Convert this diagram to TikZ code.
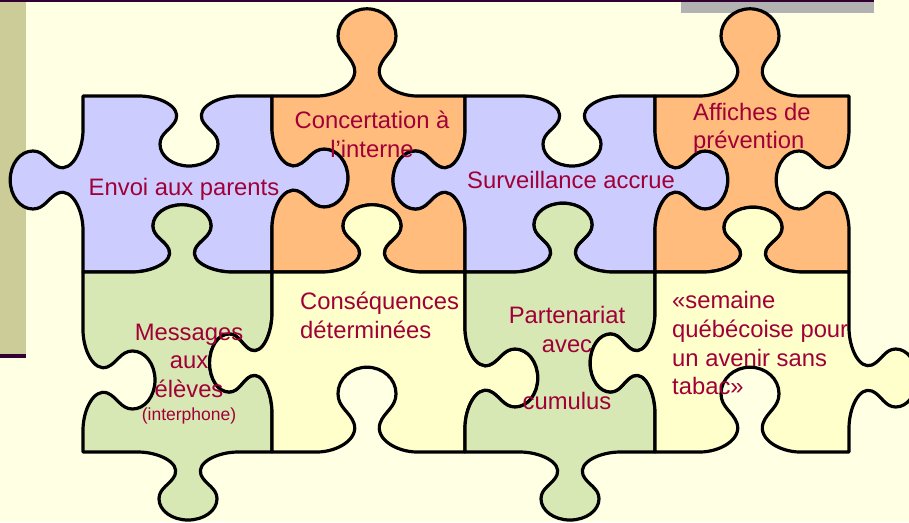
\documentclass[tikz,border=0pt]{standalone}
\usepackage{fontspec}
\setmainfont{Liberation Sans}
\definecolor{bgc}{RGB}{255,255,228}
\definecolor{stripc}{RGB}{204,204,153}
\definecolor{linec}{RGB}{51,0,51}
\definecolor{grayc}{RGB}{178,178,178}
\definecolor{bluec}{RGB}{204,204,255}
\definecolor{orangec}{RGB}{255,188,125}
\definecolor{greenc}{RGB}{216,232,180}
\definecolor{yellowc}{RGB}{255,255,204}
\definecolor{txtc}{RGB}{160,0,55}
% horizontal edge: #1 x end, #2 y, #3 tab centre x, #4 direction (+1/-1), #5 signed depth factor (+ = towards smaller y)
\newcommand\hE[5]{%
 -- ({#3+(#4)*(-50)},#2)
 .. controls ({#3+(#4)*(-30)},#2) and ({#3+(#4)*(-8)},{#2-(#5)*12}) .. ({#3+(#4)*(-13)},{#2-(#5)*27})
 .. controls ({#3+(#4)*(-17)},{#2-(#5)*38}) and ({#3+(#4)*(-29)},{#2-(#5)*42}) .. ({#3+(#4)*(-29)},{#2-(#5)*55})
 .. controls ({#3+(#4)*(-29)},{#2-(#5)*69}) and ({#3+(#4)*(-16)},{#2-(#5)*80}) .. ({#3},{#2-(#5)*80})
 .. controls ({#3+(#4)*16},{#2-(#5)*80}) and ({#3+(#4)*29},{#2-(#5)*69}) .. ({#3+(#4)*29},{#2-(#5)*55})
 .. controls ({#3+(#4)*29},{#2-(#5)*42}) and ({#3+(#4)*17},{#2-(#5)*38}) .. ({#3+(#4)*13},{#2-(#5)*27})
 .. controls ({#3+(#4)*8},{#2-(#5)*12}) and ({#3+(#4)*30},#2) .. ({#3+(#4)*50},#2)
 -- (#1,#2)}
% vertical edge: #1 y end, #2 x, #3 tab centre y, #4 direction, #5 signed depth factor (+ = towards smaller x)
\newcommand\vE[5]{%
 -- (#2,{#3+(#4)*(-50)})
 .. controls (#2,{#3+(#4)*(-30)}) and ({#2-(#5)*12},{#3+(#4)*(-8)}) .. ({#2-(#5)*27},{#3+(#4)*(-13)})
 .. controls ({#2-(#5)*38},{#3+(#4)*(-17)}) and ({#2-(#5)*42},{#3+(#4)*(-29)}) .. ({#2-(#5)*55},{#3+(#4)*(-29)})
 .. controls ({#2-(#5)*69},{#3+(#4)*(-29)}) and ({#2-(#5)*80},{#3+(#4)*(-16)}) .. ({#2-(#5)*80},{#3})
 .. controls ({#2-(#5)*80},{#3+(#4)*16}) and ({#2-(#5)*69},{#3+(#4)*29}) .. ({#2-(#5)*55},{#3+(#4)*29})
 .. controls ({#2-(#5)*42},{#3+(#4)*29}) and ({#2-(#5)*38},{#3+(#4)*17}) .. ({#2-(#5)*27},{#3+(#4)*13})
 .. controls ({#2-(#5)*12},{#3+(#4)*8}) and (#2,{#3+(#4)*30}) .. (#2,{#3+(#4)*50})
 -- (#2,#1)}
\begin{document}
\begin{tikzpicture}[x=1pt,y=-1pt,
  piece/.style={draw=black,line width=3.2pt,line join=round},
  lbl/.style={text=txtc,font=\fontsize{23.8}{29}\selectfont,inner sep=0pt},
  small/.style={text=txtc,font=\fontsize{17.5}{21}\selectfont,inner sep=0pt}]
\useasboundingbox (0,0) rectangle (909,522);
\fill[bgc] (0,0) rectangle (909,522);
\fill[stripc] (0,0) rectangle (26,356);
\fill[linec] (0,354) rectangle (26,358);
\fill[grayc] (681,0) rectangle (874,13);
\fill[linec] (0,0) rectangle (874,2);
% top row
\path[piece,fill=bluec] (83,96) \hE{272}{96}{189}{1}{-0.875} \vE{272}{272}{178}{1}{-0.95} \hE{83}{272}{182}{-1}{0.84} \vE{96}{83}{180}{-1}{0.91} -- cycle;
\path[piece,fill=orangec] (272,96) \hE{465}{96}{367}{1}{1.09} \vE{272}{465}{180}{1}{0.9} \hE{272}{272}{372}{-1}{0.84} \vE{96}{272}{178}{-1}{-0.95} -- cycle;
\path[piece,fill=bluec] (465,96) \hE{655}{96}{572}{1}{-0.875} \vE{272}{655}{180}{1}{-0.91} \hE{465}{272}{563}{-1}{0.86} \vE{96}{465}{180}{-1}{0.9} -- cycle;
\path[piece,fill=orangec] (655,96) \hE{849}{96}{750}{1}{1.09} \vE{272}{849}{180}{1}{0.91} \hE{655}{272}{753}{-1}{0.81} \vE{96}{655}{180}{-1}{-0.91} -- cycle;
% bottom row
\path[piece,fill=greenc] (83,272) \hE{272}{272}{182}{1}{0.84} \vE{452}{272}{363}{1}{0.78} \hE{83}{452}{188}{-1}{-0.85} \vE{272}{83}{380}{-1}{-0.9} -- cycle;
\path[piece,fill=yellowc] (272,272) \hE{465}{272}{372}{1}{0.84} \vE{452}{465}{378}{1}{-0.91} \hE{272}{452}{367}{-1}{1.06} \vE{272}{272}{363}{-1}{0.78} -- cycle;
\path[piece,fill=greenc] (465,272) \hE{655}{272}{563}{1}{0.86} \vE{452}{655}{363}{1}{0.81} \hE{465}{452}{570}{-1}{-0.85} \vE{272}{465}{378}{-1}{-0.91} -- cycle;
\path[piece,fill=yellowc] (655,272) \hE{849}{272}{753}{1}{0.81} \vE{452}{849}{378}{1}{-0.85} \hE{655}{452}{750}{-1}{1.06} \vE{272}{655}{363}{-1}{0.81} -- cycle;
% labels
\node[lbl,anchor=base] (envoi) at (184,195) {Envoi aux parents};
\node[lbl,anchor=base] (conc1) at (372,128) {Concertation à};
\node[lbl,anchor=base] (conc2) at (372,157) {l’interne};
\node[lbl,anchor=base] (surv) at (571,188) {Surveillance accrue};
\node[lbl,anchor=base west] (aff1) at (693,120) {Affiches de};
\node[lbl,anchor=base west] (aff2) at (693,148) {prévention};
\node[lbl,anchor=base west] (cons1) at (300,309) {Conséquences};
\node[lbl,anchor=base west] (cons2) at (300,338) {déterminées};
\node[lbl,anchor=base] (mess1) at (189,340) {Messages};
\node[lbl,anchor=base] (mess2) at (189,368) {aux};
\node[lbl,anchor=base] (mess3) at (189,397) {élèves};
\node[small,anchor=base] (mess4) at (189,420) {(interphone)};
\node[lbl,anchor=base] (part1) at (567,323) {Partenariat};
\node[lbl,anchor=base] (part2) at (567,352) {avec};
\node[lbl,anchor=base] (part3) at (567,409) {cumulus};
\node[lbl,anchor=base west] (sem1) at (672,308) {«semaine};
\node[lbl,anchor=base west] (sem2) at (672,337) {québécoise pour};
\node[lbl,anchor=base west] (sem3) at (672,366) {un avenir sans};
\node[lbl,anchor=base west] (sem4) at (672,394) {tabac»};
\end{tikzpicture}
\end{document}
